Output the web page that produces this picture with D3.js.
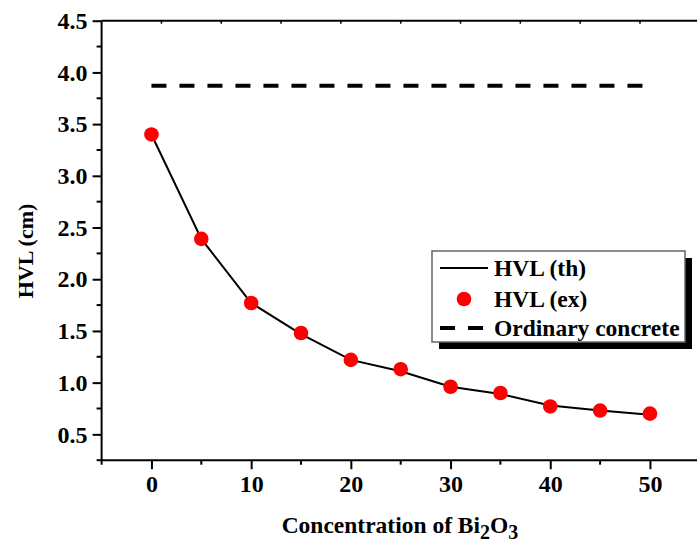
<!DOCTYPE html>
<html>
<head>
<meta charset="utf-8">
<script src="https://cdn.jsdelivr.net/npm/d3@7"></script>
<style>
  body { margin: 0; background: #fff; }
  text { font-family: "Liberation Serif", "Times New Roman", serif; font-weight: bold; fill: #000; }
</style>
</head>
<body>
<div id="chart"></div>
<script>
const width = 697;
const height = 543;

// concentration of Bi2O3 (%)
const concentration = [0, 5, 10, 15, 20, 25, 30, 35, 40, 45, 50];
const hvlEx = [3.40, 2.39, 1.77, 1.48, 1.22, 1.13, 0.96, 0.90, 0.77, 0.73, 0.70];
const hvlTh = [3.40, 2.39, 1.77, 1.47, 1.22, 1.11, 0.96, 0.89, 0.78, 0.73, 0.69];
const ordinaryConcrete = 3.87;
const xTicks = [0, 10, 20, 30, 40, 50];
const yTicks = [0.5, 1.0, 1.5, 2.0, 2.5, 3.0, 3.5, 4.0, 4.5];
const topTicks = [1, 7, 13, 19, 25, 31, 37, 43, 49];
const legendLabels = ["HVL (th)", "HVL (ex)", "Ordinary concrete"];

const x = d3.scaleLinear().domain([-5, 55]).range([101.6, 699.8]);
const y = d3.scaleLinear().domain([0.25, 4.5]).range([460.2, 20.7]);

const svg = d3
  .select("#chart")
  .append("svg")
  .attr("width", width)
  .attr("height", height);

// top frame line
svg
  .append("line")
  .attr("x1", x(-5))
  .attr("x2", x(55))
  .attr("y1", y(4.5))
  .attr("y2", y(4.5))
  .attr("stroke", "#000")
  .attr("stroke-width", 2);

svg
  .append("g")
  .selectAll("line")
  .data(topTicks)
  .enter()
  .append("line")
  .attr("x1", (d) => x(d))
  .attr("x2", (d) => x(d))
  .attr("y1", y(4.5))
  .attr("y2", y(4.5) + 3)
  .attr("stroke", "#000")
  .attr("stroke-width", 1.5);

// x axis
const xAxis = svg
  .append("g")
  .attr("transform", `translate(0,${y(0.25)})`)
  .call(
    d3.axisBottom(x).tickValues(xTicks).tickSize(9).tickPadding(6).tickFormat(d3.format("d"))
  );
xAxis
  .append("g")
  .selectAll("line")
  .data(d3.range(-5, 56, 10))
  .enter()
  .append("line")
  .attr("x1", (d) => x(d))
  .attr("x2", (d) => x(d))
  .attr("y2", 4.5)
  .attr("stroke", "#000")
  .attr("stroke-width", 2);

// y axis
const yAxis = svg
  .append("g")
  .attr("transform", `translate(${x(-5)},0)`)
  .call(
    d3.axisLeft(y).tickValues(yTicks).tickSize(9).tickPadding(5).tickFormat(d3.format(".1f"))
  );
yAxis
  .append("g")
  .selectAll("line")
  .data(d3.range(0.25, 4.5, 0.5))
  .enter()
  .append("line")
  .attr("y1", (d) => y(d))
  .attr("y2", (d) => y(d))
  .attr("x2", -5)
  .attr("stroke", "#000")
  .attr("stroke-width", 2);

xAxis.select(".domain").attr("d", `M${x(-5)},0H${x(55)}`).attr("stroke-width", 2);
yAxis.select(".domain").attr("d", `M0,${y(0.25)}V${y(4.5)}`).attr("stroke-width", 2);
svg.selectAll(".tick line").attr("stroke-width", 2);
svg.selectAll(".tick text").style("font-size", "24px").attr("fill", "#000");

// axis titles
const xTitle = svg
  .append("text")
  .attr("x", 400)
  .attr("y", 533)
  .attr("text-anchor", "middle")
  .style("font-size", "23.5px");
xTitle.append("tspan").text("Concentration of Bi");
xTitle.append("tspan").attr("dy", 6).style("font-size", "20px").text("2");
xTitle.append("tspan").attr("dy", -6).text("O");
xTitle.append("tspan").attr("dy", 6).style("font-size", "20px").text("3");

svg
  .append("text")
  .attr("transform", "translate(33,251) rotate(-90)")
  .attr("text-anchor", "middle")
  .style("font-size", "22px")
  .text("HVL (cm)");

// ordinary concrete reference
svg
  .append("line")
  .attr("x1", x(0))
  .attr("x2", x(50))
  .attr("y1", y(ordinaryConcrete))
  .attr("y2", y(ordinaryConcrete))
  .attr("stroke", "#000")
  .attr("stroke-width", 4)
  .attr("stroke-dasharray", "15,13");

// theoretical curve
const line = d3
  .line()
  .x((d, i) => x(concentration[i]))
  .y((d) => y(d));

svg
  .append("path")
  .datum(hvlTh)
  .attr("d", line)
  .attr("fill", "none")
  .attr("stroke", "#000")
  .attr("stroke-width", 2);

// experimental points
svg
  .append("g")
  .selectAll("circle")
  .data(hvlEx)
  .enter()
  .append("circle")
  .attr("cx", (d, i) => x(concentration[i]))
  .attr("cy", (d) => y(d))
  .attr("r", 7.3)
  .attr("fill", "#ff0000");

// legend
const legend = svg.append("g").attr("transform", "translate(432,251)");
legend.append("rect").attr("x", 7).attr("y", 7).attr("width", 253).attr("height", 91).attr("fill", "#000");
legend
  .append("rect")
  .attr("width", 253)
  .attr("height", 91)
  .attr("fill", "#fff")
  .attr("stroke", "#666")
  .attr("stroke-width", 1.5);

const rowY = [17, 48, 77];
legend.append("line").attr("x1", 8).attr("x2", 56).attr("y1", rowY[0]).attr("y2", rowY[0])
  .attr("stroke", "#000").attr("stroke-width", 2);
legend.append("circle").attr("cx", 32).attr("cy", rowY[1]).attr("r", 7.3).attr("fill", "#ff0000");
legend.append("line").attr("x1", 8).attr("x2", 51).attr("y1", rowY[2]).attr("y2", rowY[2])
  .attr("stroke", "#000").attr("stroke-width", 4).attr("stroke-dasharray", "15,13");

legend
  .selectAll("text")
  .data(legendLabels)
  .enter()
  .append("text")
  .attr("x", 62)
  .attr("y", (d, i) => rowY[i])
  .attr("dy", "0.35em")
  .style("font-size", "23.5px")
  .text((d) => d);
</script>
</body>
</html>
